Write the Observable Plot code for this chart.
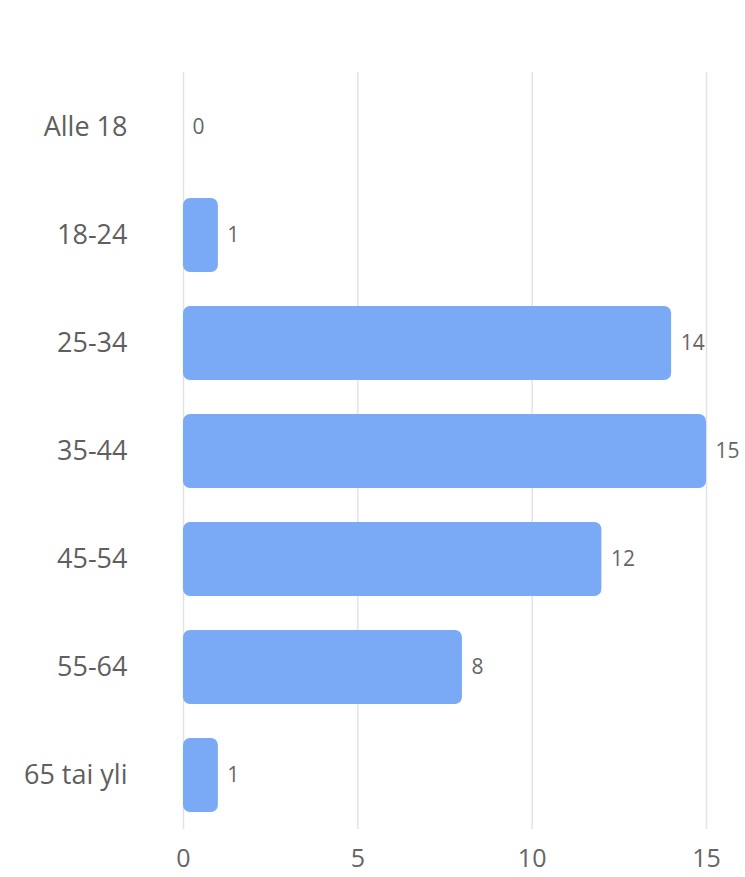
<!DOCTYPE html>
<html>
<head>
<meta charset="utf-8">
<script src="https://cdn.jsdelivr.net/npm/d3@7"></script>
<script src="https://cdn.jsdelivr.net/npm/@observablehq/plot@0.6"></script>
<style>
  html, body { margin: 0; padding: 0; background: #fff; }
  #chart svg { display: block; }
</style>
</head>
<body>
<div id="chart"></div>
<script>
const categories = ["Alle 18", "18-24", "25-34", "35-44", "45-54", "55-64", "65 tai yli"];
const values = [0, 1, 14, 15, 12, 8, 1];
const xTicks = [0, 5, 10, 15];

const data = categories.map((c, i) => ({category: c, value: values[i]}));

const chart = Plot.plot({
  width: 745,
  height: 877,
  marginTop: 72,
  marginBottom: 48,
  marginLeft: 183,
  marginRight: 39,
  style: {fontFamily: "'Open Sans', sans-serif", background: "#fff"},
  x: {domain: [0, 15], ticks: xTicks, label: null},
  y: {domain: categories, label: null, paddingInner: 0.316, paddingOuter: 0.158},
  marks: [
    Plot.ruleX(xTicks, {stroke: "#e3e3e3", strokeWidth: 1.5, y1: null, y2: null}),
    Plot.barX(data, {x: "value", y: "category", fill: "#7aaaf5", rx: 7}),
    Plot.text(data, {x: "value", y: "category", text: d => String(d.value), textAnchor: "start", dx: 9, fontSize: 21, fill: "#666"}),
    Plot.axisX({ticks: xTicks, tickSize: 0, tickPadding: 20, fontSize: 25, color: "#666", label: null}),
    Plot.axisY({tickSize: 0, tickPadding: 56, fontSize: 27, color: "#5f5f5f", label: null})
  ]
});
document.getElementById("chart").append(chart);
</script>
</body>
</html>
